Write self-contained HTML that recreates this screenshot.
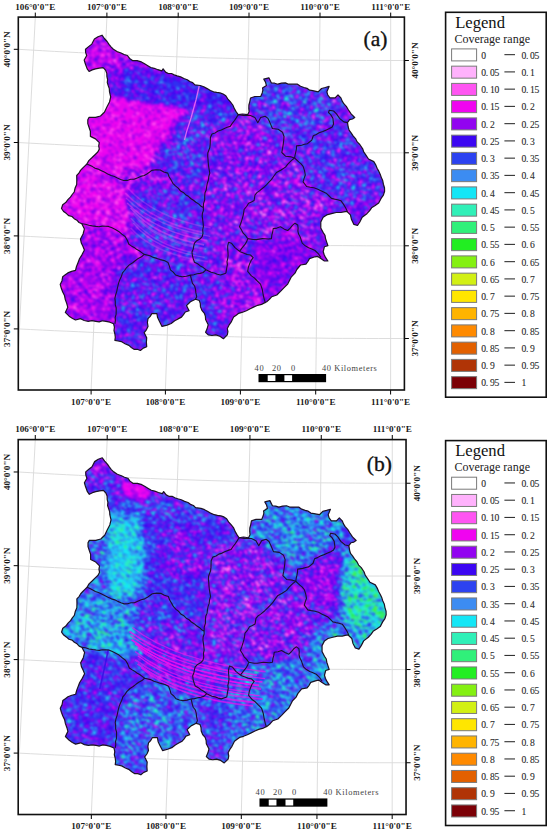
<!DOCTYPE html>
<html><head><meta charset="utf-8"><style>
html,body{margin:0;padding:0;background:#fff;width:550px;height:830px;overflow:hidden}
svg{display:block}
.lab{font-family:"Liberation Serif",serif;font-weight:bold;font-size:9.1px;fill:#1a1a1a}
.sb{font-family:"Liberation Serif",serif;font-size:8.4px;fill:#444;letter-spacing:0.6px}
.lg{font-family:"Liberation Serif",serif;font-size:16.6px;fill:#111}
.cr{font-family:"Liberation Serif",serif;font-size:12px;fill:#222}
.lt{font-family:"Liberation Serif",serif;font-size:9.6px;fill:#2a2a2a;stroke:#2a2a2a;stroke-width:0.1px;letter-spacing:-0.3px}
.pl{font-family:"Liberation Serif",serif;font-size:21.5px;fill:#111;stroke:#111;stroke-width:0.35px}
</style></head><body>
<svg width="550" height="830" viewBox="0 0 550 830">
<defs>
<clipPath id="clipOut"><path d="M102.0,35.2 L104.4,38.5 L107.1,41.5 L109.0,44.3 L111.0,46.9 L113.4,49.2 L117.0,51.6 L121.1,53.0 L124.1,54.5 L127.4,55.5 L129.6,58.4 L132.5,60.6 L137.0,60.6 L141.4,61.9 L144.6,63.8 L147.8,65.7 L150.8,67.5 L154.2,68.3 L157.9,69.7 L161.8,70.8 L163.1,68.8 L165.6,72.1 L168.3,73.5 L171.5,73.5 L174.2,74.9 L177.1,75.9 L180.6,76.9 L183.9,78.5 L187.3,79.7 L189.8,81.5 L192.7,82.6 L194.9,84.8 L200.2,85.5 L203.8,86.8 L207.1,88.6 L210.4,90.5 L213.5,91.8 L216.7,92.4 L220.0,92.9 L223.1,94.0 L225.8,95.8 L227.7,98.9 L230.2,101.6 L232.8,105.0 L234.5,108.9 L236.2,111.9 L238.2,114.7 L242.5,114.0 L247.6,114.7 L249.1,111.8 L248.8,108.4 L248.9,105.0 L249.8,101.6 L250.5,98.0 L254.9,96.5 L260.7,96.5 L262.2,92.9 L262.9,90.0 L262.5,88.0 L266.4,85.5 L265.5,82.1 L263.8,79.1 L268.9,77.8 L271.4,82.9 L274.7,83.2 L277.8,84.2 L281.5,83.2 L285.4,82.9 L288.5,84.2 L291.8,84.2 L297.5,84.2 L300.5,86.3 L304.0,87.5 L307.0,88.3 L309.6,90.2 L312.7,90.7 L318.2,91.8 L321.5,88.5 L325.3,87.5 L329.1,86.4 L326.9,91.8 L327.8,95.0 L330.0,97.9 L335.1,97.9 L338.0,95.0 L340.9,97.9 L342.1,100.9 L343.8,103.7 L346.3,106.4 L348.2,109.5 L351.1,113.9 L354.7,117.5 L352.5,119.0 L349.6,119.7 L347.5,122.6 L348.2,127.0 L349.1,130.2 L351.1,132.8 L353.1,135.8 L355.5,138.6 L357.2,141.9 L359.8,144.5 L362.7,148.8 L363.7,151.9 L365.6,154.6 L368.5,159.0 L373.8,161.6 L375.7,164.8 L377.1,168.2 L378.9,171.4 L380.4,174.7 L381.1,177.1 L382.7,180.5 L383.4,184.2 L384.5,187.7 L384.6,191.3 L383.4,195.1 L381.1,198.4 L378.7,203.1 L375.2,205.5 L371.6,207.8 L369.5,210.9 L366.9,213.7 L362.2,217.3 L359.8,222.0 L357.5,225.5 L353.9,224.4 L351.5,219.6 L350.4,214.9 L346.8,211.4 L343.8,211.8 L340.9,212.5 L336.2,212.5 L331.5,213.7 L326.7,214.9 L323.2,217.3 L320.8,222.0 L320.8,227.9 L323.2,232.6 L325.0,235.3 L325.5,238.5 L326.7,242.1 L327.9,245.6 L324.4,246.8 L323.2,251.5 L324.1,254.5 L325.5,257.4 L327.9,261.0 L324.4,261.0 L320.8,258.6 L317.3,256.3 L315.0,256.8 L309.5,258.6 L307.9,261.5 L305.9,264.1 L300.5,265.0 L296.8,269.5 L295.0,273.2 L291.4,276.8 L289.5,280.5 L287.7,284.1 L284.1,287.7 L280.5,291.4 L276.8,295.0 L271.8,296.7 L269.4,299.4 L266.7,301.8 L261.6,304.4 L257.7,305.3 L254.0,306.9 L250.2,308.8 L246.4,310.7 L242.6,312.2 L238.7,313.3 L236.2,315.2 L233.6,317.1 L231.1,322.2 L229.0,325.2 L227.3,328.5 L227.9,331.7 L227.3,334.9 L223.4,338.7 L219.9,336.2 L215.8,334.9 L212.0,335.5 L208.2,334.9 L205.6,332.3 L207.2,328.6 L208.2,324.7 L205.6,319.6 L205.4,316.4 L204.4,313.3 L201.9,310.4 L200.5,306.9 L200.3,303.6 L199.3,300.5 L195.5,299.3 L190.4,301.8 L186.5,305.6 L189.1,310.7 L185.3,312.0 L183.5,314.7 L181.5,317.1 L178.1,318.9 L174.7,320.8 L171.2,323.5 L167.1,325.1 L162.0,326.4 L159.4,321.3 L157.6,317.6 L156.9,313.6 L151.8,313.6 L150.2,316.4 L148.0,318.7 L147.4,322.5 L148.0,326.4 L146.4,329.8 L144.2,332.7 L146.7,337.8 L146.4,342.2 L146.7,346.7 L143.3,348.1 L140.4,350.5 L137.3,349.3 L134.0,349.3 L131.3,347.5 L128.9,345.4 L125.0,343.7 L121.3,341.6 L118.1,341.0 L114.9,340.4 L115.3,337.2 L114.9,334.0 L114.0,330.7 L114.4,327.2 L113.6,323.8 L109.9,322.2 L106.0,321.3 L102.6,320.8 L99.2,321.9 L95.8,321.3 L92.0,320.7 L88.2,321.3 L84.2,320.5 L80.5,318.7 L75.5,320.0 L72.2,318.3 L69.1,316.2 L65.3,312.4 L67.8,307.3 L66.7,303.4 L65.3,299.6 L64.5,295.6 L62.7,292.0 L61.3,288.3 L60.2,284.4 L62.0,280.7 L62.7,276.7 L65.3,274.8 L67.8,272.9 L71.6,271.4 L75.5,270.4 L76.5,266.5 L78.0,262.7 L79.5,258.7 L81.8,255.1 L84.4,250.0 L83.1,246.7 L81.3,243.1 L80.5,239.1 L83.1,234.0 L84.4,228.9 L81.8,223.8 L79.0,222.5 L76.9,220.2 L74.2,218.7 L72.0,216.5 L68.8,215.7 L66.5,213.6 L63.6,211.5 L61.5,208.5 L62.7,204.7 L65.7,202.6 L67.9,199.7 L70.4,197.1 L72.2,194.5 L74.2,192.0 L75.1,188.1 L76.7,184.4 L76.8,179.9 L76.7,175.5 L78.9,173.2 L80.5,170.4 L82.6,168.2 L84.7,166.1 L86.9,164.0 L88.8,160.6 L91.6,158.0 L95.5,154.2 L97.8,152.0 L99.3,149.1 L98.7,145.9 L99.3,142.7 L95.5,138.9 L90.4,136.4 L90.4,131.3 L89.1,127.5 L87.8,123.6 L87.8,119.8 L89.1,117.3 L92.3,117.3 L95.5,117.3 L100.5,116.0 L104.4,112.2 L106.9,107.1 L109.5,102.0 L110.7,96.9 L109.5,91.8 L109.3,88.6 L108.2,85.5 L107.3,82.6 L107.6,79.5 L106.9,76.5 L106.8,73.2 L105.6,70.2 L103.1,67.6 L99.3,68.1 L95.5,68.9 L92.2,69.9 L89.1,71.5 L87.2,68.9 L85.3,63.8 L84.2,60.0 L86.7,55.5 L85.6,52.4 L85.5,49.2 L88.6,46.6 L91.8,44.1 L94.4,39.0 L98.0,36.7 Z"/></clipPath>
<filter id="bl0" x="-10%" y="-10%" width="120%" height="120%"><feGaussianBlur stdDeviation="0.4"/></filter>
<filter id="bl1" x="-10%" y="-10%" width="120%" height="120%"><feGaussianBlur stdDeviation="1"/></filter>
<filter id="bl2" x="-10%" y="-10%" width="120%" height="120%"><feGaussianBlur stdDeviation="2"/></filter>
<filter id="bl3" x="-10%" y="-10%" width="120%" height="120%"><feGaussianBlur stdDeviation="3"/></filter>
<filter id="bl4" x="-10%" y="-10%" width="120%" height="120%"><feGaussianBlur stdDeviation="4"/></filter>
<filter id="bl5" x="-10%" y="-10%" width="120%" height="120%"><feGaussianBlur stdDeviation="5"/></filter>
<filter id="nzA" x="0" y="0" width="100%" height="100%" color-interpolation-filters="sRGB">
 <feTurbulence type="fractalNoise" baseFrequency="0.22 0.45" numOctaves="2" seed="3" result="n"/>
 <feColorMatrix in="n" type="matrix" values="1 0 0 0 0  1 0 0 0 0  1 0 0 0 0  0 0 0 0 1" result="ng"/>
 <feTurbulence type="fractalNoise" baseFrequency="0.08 0.12" numOctaves="3" seed="9" result="n2"/>
 <feColorMatrix in="n2" type="matrix" values="1 0 0 0 0  1 0 0 0 0  1 0 0 0 0  0 0 0 0 1" result="ng2"/>
 <feComposite in="ng" in2="ng2" operator="arithmetic" k1="0" k2="0.6" k3="0.18" k4="0.10999999999999999" result="nsum"/>
 <feColorMatrix in="SourceGraphic" type="matrix" values="0 1 0 0 0  0 1 0 0 0  0 1 0 0 0  0 0 0 0 1" result="A"/>
 <feComposite in="A" in2="nsum" operator="arithmetic" k1="1" k2="-0.5" k3="0" k4="0.5" result="m"/>
 <feComposite in="SourceGraphic" in2="m" operator="arithmetic" k1="0" k2="1" k3="1" k4="-0.5" result="v0"/>
 <feColorMatrix in="v0" type="matrix" values="1 0 0 0 0  1 0 0 0 0  1 0 0 0 0  0 0 0 0 1" result="v"/>
 <feComponentTransfer in="v" result="c">
  <feFuncR type="discrete" tableValues="1.000 1.000 1.000 0.941 0.573 0.235 0.173 0.235 0.078 0.188 0.188 0.133 0.518 0.824 1.000 1.000 1.000 0.886 0.690 0.486"/>
  <feFuncG type="discrete" tableValues="1.000 0.698 0.333 0.016 0.016 0.024 0.259 0.549 0.902 0.941 0.941 0.933 0.941 0.941 0.902 0.706 0.541 0.376 0.204 0.000"/>
  <feFuncB type="discrete" tableValues="1.000 0.988 0.949 0.941 0.941 0.949 0.941 0.949 0.965 0.722 0.478 0.133 0.071 0.078 0.000 0.000 0.000 0.000 0.024 0.024"/>
  <feFuncA type="identity"/>
 </feComponentTransfer>
 <feGaussianBlur in="c" stdDeviation="0.95"/>
</filter>
<filter id="nzB" x="0" y="0" width="100%" height="100%" color-interpolation-filters="sRGB">
 <feTurbulence type="fractalNoise" baseFrequency="0.22 0.45" numOctaves="2" seed="7" result="n"/>
 <feColorMatrix in="n" type="matrix" values="1 0 0 0 0  1 0 0 0 0  1 0 0 0 0  0 0 0 0 1" result="ng"/>
 <feTurbulence type="fractalNoise" baseFrequency="0.08 0.12" numOctaves="3" seed="13" result="n2"/>
 <feColorMatrix in="n2" type="matrix" values="1 0 0 0 0  1 0 0 0 0  1 0 0 0 0  0 0 0 0 1" result="ng2"/>
 <feComposite in="ng" in2="ng2" operator="arithmetic" k1="0" k2="0.6" k3="0.18" k4="0.10999999999999999" result="nsum"/>
 <feColorMatrix in="SourceGraphic" type="matrix" values="0 1 0 0 0  0 1 0 0 0  0 1 0 0 0  0 0 0 0 1" result="A"/>
 <feComposite in="A" in2="nsum" operator="arithmetic" k1="1" k2="-0.5" k3="0" k4="0.5" result="m"/>
 <feComposite in="SourceGraphic" in2="m" operator="arithmetic" k1="0" k2="1" k3="1" k4="-0.5" result="v0"/>
 <feColorMatrix in="v0" type="matrix" values="1 0 0 0 0  1 0 0 0 0  1 0 0 0 0  0 0 0 0 1" result="v"/>
 <feComponentTransfer in="v" result="c">
  <feFuncR type="discrete" tableValues="1.000 1.000 1.000 0.941 0.573 0.235 0.173 0.235 0.078 0.188 0.188 0.133 0.518 0.824 1.000 1.000 1.000 0.886 0.690 0.486"/>
  <feFuncG type="discrete" tableValues="1.000 0.698 0.333 0.016 0.016 0.024 0.259 0.549 0.902 0.941 0.941 0.933 0.941 0.941 0.902 0.706 0.541 0.376 0.204 0.000"/>
  <feFuncB type="discrete" tableValues="1.000 0.988 0.949 0.941 0.941 0.949 0.941 0.949 0.965 0.722 0.478 0.133 0.071 0.078 0.000 0.000 0.000 0.000 0.024 0.024"/>
  <feFuncA type="identity"/>
 </feComponentTransfer>
 <feGaussianBlur in="c" stdDeviation="0.95"/>
</filter>
</defs>
<rect width="550" height="830" fill="#fff"/>
<g transform="translate(0,0)">
<line x1="35.3" y1="17.1" x2="18.3" y2="350.7" stroke="#d9d9d9" stroke-width="0.9"/>
<line x1="106.9" y1="17.1" x2="91.1" y2="390.0" stroke="#d9d9d9" stroke-width="0.9"/>
<line x1="178.2" y1="17.1" x2="165.4" y2="390.0" stroke="#d9d9d9" stroke-width="0.9"/>
<line x1="249.0" y1="17.1" x2="240.4" y2="390.0" stroke="#d9d9d9" stroke-width="0.9"/>
<line x1="320.0" y1="17.1" x2="315.7" y2="390.0" stroke="#d9d9d9" stroke-width="0.9"/>
<line x1="390.7" y1="17.1" x2="390.6" y2="390.0" stroke="#d9d9d9" stroke-width="0.9"/>
<polyline points="18.3,49.3 30.3,50.0 42.3,50.7 54.3,51.4 66.3,52.0 78.3,52.6 90.3,53.2 102.3,53.8 114.3,54.3 126.3,54.9 138.3,55.4 150.3,55.8 162.3,56.3 174.3,56.7 186.3,57.1 198.3,57.5 210.3,57.9 222.3,58.2 234.3,58.5 246.3,58.8 258.3,59.1 270.3,59.3 282.3,59.6 294.3,59.8 306.3,59.9 318.3,60.1 330.3,60.2 342.3,60.3 354.3,60.4 366.3,60.5 378.3,60.5 390.3,60.5 402.3,60.5 404.4,60.5" fill="none" stroke="#d9d9d9" stroke-width="0.9"/>
<polyline points="18.3,142.5 30.3,143.2 42.3,143.8 54.3,144.4 66.3,145.0 78.3,145.6 90.3,146.1 102.3,146.6 114.3,147.1 126.3,147.6 138.3,148.1 150.3,148.5 162.3,148.9 174.3,149.3 186.3,149.7 198.3,150.1 210.3,150.4 222.3,150.7 234.3,151.0 246.3,151.3 258.3,151.5 270.3,151.7 282.3,151.9 294.3,152.1 306.3,152.3 318.3,152.4 330.3,152.5 342.3,152.6 354.3,152.7 366.3,152.8 378.3,152.8 390.3,152.8 402.3,152.8 404.4,152.8" fill="none" stroke="#d9d9d9" stroke-width="0.9"/>
<polyline points="18.3,235.9 30.3,236.5 42.3,237.1 54.3,237.7 66.3,238.3 78.3,238.8 90.3,239.4 102.3,239.9 114.3,240.4 126.3,240.8 138.3,241.3 150.3,241.7 162.3,242.1 174.3,242.5 186.3,242.8 198.3,243.2 210.3,243.5 222.3,243.8 234.3,244.1 246.3,244.3 258.3,244.6 270.3,244.8 282.3,245.0 294.3,245.1 306.3,245.3 318.3,245.4 330.3,245.6 342.3,245.6 354.3,245.7 366.3,245.8 378.3,245.8 390.3,245.8 402.3,245.8 404.4,245.8" fill="none" stroke="#d9d9d9" stroke-width="0.9"/>
<polyline points="18.3,328.9 30.3,329.5 42.3,330.1 54.3,330.7 66.3,331.2 78.3,331.7 90.3,332.3 102.3,332.7 114.3,333.2 126.3,333.7 138.3,334.1 150.3,334.5 162.3,334.9 174.3,335.3 186.3,335.6 198.3,335.9 210.3,336.3 222.3,336.5 234.3,336.8 246.3,337.1 258.3,337.3 270.3,337.5 282.3,337.7 294.3,337.9 306.3,338.0 318.3,338.1 330.3,338.3 342.3,338.4 354.3,338.4 366.3,338.5 378.3,338.5 390.3,338.5 402.3,338.5 404.4,338.5" fill="none" stroke="#d9d9d9" stroke-width="0.9"/>
<line x1="35.3" y1="17.1" x2="35.3" y2="12.6" stroke="#000" stroke-width="1"/>
<text x="35.3" y="10" class="lab" text-anchor="middle">106&#176;0&#39;0&quot;E</text>
<line x1="106.9" y1="17.1" x2="106.9" y2="12.6" stroke="#000" stroke-width="1"/>
<text x="106.9" y="10" class="lab" text-anchor="middle">107&#176;0&#39;0&quot;E</text>
<line x1="91.1" y1="390.0" x2="91.1" y2="394.5" stroke="#000" stroke-width="1"/>
<text x="91.1" y="404.5" class="lab" text-anchor="middle">107&#176;0&#39;0&quot;E</text>
<line x1="178.2" y1="17.1" x2="178.2" y2="12.6" stroke="#000" stroke-width="1"/>
<text x="178.2" y="10" class="lab" text-anchor="middle">108&#176;0&#39;0&quot;E</text>
<line x1="165.4" y1="390.0" x2="165.4" y2="394.5" stroke="#000" stroke-width="1"/>
<text x="165.4" y="404.5" class="lab" text-anchor="middle">108&#176;0&#39;0&quot;E</text>
<line x1="249.0" y1="17.1" x2="249.0" y2="12.6" stroke="#000" stroke-width="1"/>
<text x="249.0" y="10" class="lab" text-anchor="middle">109&#176;0&#39;0&quot;E</text>
<line x1="240.4" y1="390.0" x2="240.4" y2="394.5" stroke="#000" stroke-width="1"/>
<text x="240.4" y="404.5" class="lab" text-anchor="middle">109&#176;0&#39;0&quot;E</text>
<line x1="320.0" y1="17.1" x2="320.0" y2="12.6" stroke="#000" stroke-width="1"/>
<text x="320.0" y="10" class="lab" text-anchor="middle">110&#176;0&#39;0&quot;E</text>
<line x1="315.7" y1="390.0" x2="315.7" y2="394.5" stroke="#000" stroke-width="1"/>
<text x="315.7" y="404.5" class="lab" text-anchor="middle">110&#176;0&#39;0&quot;E</text>
<line x1="390.7" y1="17.1" x2="390.7" y2="12.6" stroke="#000" stroke-width="1"/>
<text x="390.7" y="10" class="lab" text-anchor="middle">111&#176;0&#39;0&quot;E</text>
<line x1="390.6" y1="390.0" x2="390.6" y2="394.5" stroke="#000" stroke-width="1"/>
<text x="390.6" y="404.5" class="lab" text-anchor="middle">111&#176;0&#39;0&quot;E</text>
<line x1="18.3" y1="49.3" x2="13.8" y2="49.3" stroke="#000" stroke-width="1"/>
<line x1="404.4" y1="60.5" x2="408.9" y2="60.5" stroke="#000" stroke-width="1"/>
<text class="lab" text-anchor="middle" transform="translate(10.3,49.3) rotate(-90)">40&#176;0&#39;0&quot;N</text>
<text class="lab" text-anchor="middle" transform="translate(418,60.5) rotate(-90)">40&#176;0&#39;0&quot;N</text>
<line x1="18.3" y1="142.5" x2="13.8" y2="142.5" stroke="#000" stroke-width="1"/>
<line x1="404.4" y1="152.8" x2="408.9" y2="152.8" stroke="#000" stroke-width="1"/>
<text class="lab" text-anchor="middle" transform="translate(10.3,142.5) rotate(-90)">39&#176;0&#39;0&quot;N</text>
<text class="lab" text-anchor="middle" transform="translate(418,152.8) rotate(-90)">39&#176;0&#39;0&quot;N</text>
<line x1="18.3" y1="235.9" x2="13.8" y2="235.9" stroke="#000" stroke-width="1"/>
<line x1="404.4" y1="245.8" x2="408.9" y2="245.8" stroke="#000" stroke-width="1"/>
<text class="lab" text-anchor="middle" transform="translate(10.3,235.9) rotate(-90)">38&#176;0&#39;0&quot;N</text>
<text class="lab" text-anchor="middle" transform="translate(418,245.8) rotate(-90)">38&#176;0&#39;0&quot;N</text>
<line x1="18.3" y1="328.9" x2="13.8" y2="328.9" stroke="#000" stroke-width="1"/>
<line x1="404.4" y1="338.5" x2="408.9" y2="338.5" stroke="#000" stroke-width="1"/>
<text class="lab" text-anchor="middle" transform="translate(10.3,328.9) rotate(-90)">37&#176;0&#39;0&quot;N</text>
<text class="lab" text-anchor="middle" transform="translate(418,338.5) rotate(-90)">37&#176;0&#39;0&quot;N</text>
<rect x="18.3" y="17.1" width="386.1" height="372.9" fill="none" stroke="#111" stroke-width="1.6"/>
<g clip-path="url(#clipOut)"><g transform="rotate(22 220 190)" filter="url(#nzA)"><g transform="rotate(-22 220 190)">
<rect x="0" y="-40" width="440" height="460" fill="#40cc00"/>
<polygon points="78.0,28.0 125.0,45.0 150.0,62.0 125.0,68.0 110.0,76.0 80.0,76.0" fill="#337300" filter="url(#bl3)"/>
<polygon points="125.0,50.0 215.0,66.0 250.0,100.0 205.0,86.0 160.0,76.0 116.0,66.0" fill="#399900" filter="url(#bl3)"/>
<polygon points="104.0,66.0 125.0,68.0 128.0,99.0 104.0,99.0" fill="#3d9900" filter="url(#bl3)"/>
<polygon points="122.0,68.0 160.0,72.0 205.0,84.0 240.0,98.0 236.0,118.0 200.0,112.0 178.0,107.0 124.0,99.0" fill="#4a9900" filter="url(#bl2)"/>
<polygon points="80.0,97.0 111.0,98.0 178.0,107.0 190.0,110.0 176.0,128.0 160.0,146.0 150.0,166.0 130.0,178.0 80.0,172.0" fill="#2d4c00" filter="url(#bl1)"/>
<polygon points="190.0,110.0 236.0,118.0 232.0,124.0 212.0,134.0 206.0,160.0 196.0,190.0 178.0,185.0 160.0,168.0 176.0,130.0" fill="#4ae600" filter="url(#bl4)"/>
<polygon points="55.0,165.0 100.0,172.0 126.0,182.0 130.0,215.0 128.0,238.0 80.0,236.0 55.0,230.0" fill="#2e5900" filter="url(#bl3)"/>
<polygon points="110.0,172.0 150.0,170.0 170.0,175.0 190.0,198.0 160.0,190.0 130.0,188.0" fill="#36b200" filter="url(#bl3)"/>
<polygon points="134.0,190.0 170.0,186.0 205.0,202.0 204.0,262.0 175.0,262.0 140.0,248.0 132.0,215.0" fill="#46e600" filter="url(#bl4)"/>
<polygon points="55.0,222.0 110.0,228.0 128.0,240.0 142.0,256.0 118.0,290.0 115.0,330.0 55.0,330.0" fill="#347300" filter="url(#bl4)"/>
<polygon points="118.0,262.0 150.0,256.0 205.0,268.0 230.0,340.0 115.0,345.0" fill="#45cc00" filter="url(#bl3)"/>
<polygon points="210.0,125.0 240.0,118.0 285.0,135.0 285.0,160.0 245.0,210.0 240.0,240.0 205.0,262.0" fill="#3ed900" filter="url(#bl4)"/>
<polygon points="240.0,70.0 350.0,88.0 336.0,122.0 296.0,150.0 283.0,135.0 250.0,112.0" fill="#4cff00" filter="url(#bl4)"/>
<polygon points="330.0,105.0 390.0,170.0 385.0,205.0 348.0,212.0 306.0,185.0 296.0,156.0 320.0,130.0" fill="#47e600" filter="url(#bl4)"/>
<polygon points="294.0,160.0 306.0,184.0 346.0,212.0 322.0,222.0 320.0,256.0 300.0,240.0 247.0,238.0 242.0,218.0 256.0,195.0" fill="#3be600" filter="url(#bl4)"/>
<polygon points="250.0,242.0 300.0,238.0 322.0,258.0 270.0,305.0 250.0,300.0 252.0,262.0" fill="#3a7300" filter="url(#bl4)"/>
<polygon points="226.0,245.0 250.0,255.0 265.0,305.0 230.0,340.0 224.0,270.0" fill="#39bf00" filter="url(#bl4)"/>
<polygon points="320.0,212.0 390.0,195.0 360.0,232.0 330.0,262.0 318.0,250.0" fill="#3db200" filter="url(#bl4)"/>
</g></g><path d="M199.2,86 L196,100 L191,118 L186.5,132 L184.5,140" stroke="#f070f4" stroke-width="1.3" fill="none" opacity="0.85"/><g fill="none" stroke="#f450f0" opacity="0.45" filter="url(#bl0)"><path d="M127.9,188.0 Q154.8,218.0 210.6,228.0" stroke-width="1.52" opacity="0.66"/><path d="M125.1,193.0 Q154.8,222.6 201.9,232.2" stroke-width="1.74" opacity="0.75"/><path d="M126.0,198.0 Q154.8,227.2 210.2,236.4" stroke-width="1.24" opacity="0.77"/><path d="M127.1,203.0 Q154.8,231.8 207.5,240.6" stroke-width="1.62" opacity="0.93"/><path d="M130.7,208.0 Q154.8,236.4 204.1,244.8" stroke-width="1.83" opacity="0.98"/><path d="M133.2,213.0 Q154.8,241.0 206.2,249.0" stroke-width="2.18" opacity="0.62"/><path d="M130.7,218.0 Q154.8,245.6 195.7,253.2" stroke-width="1.34" opacity="0.65"/><path d="M133.4,223.0 Q154.8,250.2 204.6,257.4" stroke-width="1.38" opacity="0.83"/><path d="M130.8,228.0 Q154.8,254.8 207.9,261.6" stroke-width="1.75" opacity="0.63"/></g></g>
<polyline points="86.9,164.0 89.7,165.2 92.5,166.6 95.1,168.2 98.1,169.1 100.9,170.4 104.3,172.1 107.7,173.9 111.1,175.5 114.4,176.5 117.4,178.0 120.6,179.4 123.8,180.5 127.2,180.4 130.6,179.3 134.0,179.3 137.3,177.9 140.7,176.4 144.2,175.5 146.9,174.0 149.4,172.2 151.8,170.4 156.0,169.8 160.2,170.0 163.8,172.0 167.8,173.1 169.1,176.7 171.1,180.0 172.9,183.3 175.4,185.9 178.2,188.1 180.5,190.9 183.3,192.4 185.6,194.7 188.4,196.3 190.7,198.5 193.4,200.2 195.9,202.2 198.6,203.9 200.9,206.2 203.4,207.4" fill="none" stroke="#1c1030" stroke-width="1.1" stroke-linejoin="round"/>
<polyline points="238.2,114.7 236.4,117.6 234.5,120.5 232.2,123.4 230.2,126.4 227.2,127.3 224.4,128.5 221.3,130.0 218.0,131.0 215.2,132.9 212.0,134.0 210.4,137.5 210.3,140.9 210.2,144.2 209.8,147.6 207.8,153.0 207.7,156.1 208.0,159.3 208.2,162.4 208.5,165.5 209.1,169.3 209.8,173.1 208.8,176.5 208.4,180.0 207.3,183.3 206.7,186.5 206.3,189.7 205.0,192.8 204.7,196.0 204.7,199.8 203.5,203.6 203.4,207.4 203.4,210.5 202.4,213.4 202.2,216.4 202.7,219.7 203.1,223.1 203.4,226.5 202.7,229.9 203.0,233.4 202.2,236.7 199.9,239.1 196.8,240.7 194.5,243.1 193.7,246.1 193.2,249.1 192.0,252.0 192.4,255.5 193.3,258.9 194.5,262.2 197.6,263.8 200.3,265.9 203.3,267.6 206.0,269.8 211.1,272.3 214.3,273.0 217.3,274.2 220.5,275.0 225.9,273.2" fill="none" stroke="#1c1030" stroke-width="1.1" stroke-linejoin="round"/>
<polyline points="81.8,223.8 85.3,224.2 88.8,225.3 92.3,225.9 95.8,226.4 99.0,226.7 102.2,226.1 105.3,226.2 108.5,226.4 112.0,227.8 115.4,229.5 118.7,231.4 121.8,234.1 125.1,236.5 127.3,240.2 128.9,244.2 131.4,245.9 134.1,247.4 136.5,249.3 139.2,250.8 141.7,252.6 144.2,254.4 150.0,255.8 153.3,257.4 156.8,258.4 160.2,259.6 164.3,260.6 168.0,262.5 169.4,266.1 170.4,269.8 173.2,272.1 175.5,274.9 178.8,276.1 182.3,276.7 186.4,276.2 190.4,275.1 193.8,274.7 197.0,273.8 200.1,273.4 203.1,272.5 206.0,269.8" fill="none" stroke="#1c1030" stroke-width="1.1" stroke-linejoin="round"/>
<polyline points="144.2,254.4 141.5,256.8 138.3,258.4 135.5,260.5 132.7,262.7 129.3,264.9 126.4,267.8 124.6,270.5 122.5,272.9 121.5,276.2 120.0,279.3 118.9,282.2 118.1,285.2 117.4,288.2 116.7,291.6 115.6,295.0 114.9,298.4 115.3,301.6 115.3,304.8 116.2,307.9 116.2,311.1 116.1,314.3 115.2,317.4 115.4,320.6 114.9,323.8" fill="none" stroke="#1c1030" stroke-width="1.1" stroke-linejoin="round"/>
<polyline points="190.4,275.1 191.6,280.2 192.5,283.3 194.6,286.0 195.5,289.1 195.9,292.9 196.7,296.7 195.5,299.3" fill="none" stroke="#1c1030" stroke-width="1.1" stroke-linejoin="round"/>
<polyline points="238.2,114.7 243.3,115.5 246.9,115.4 250.5,115.5 254.9,117.6 257.8,122.7 260.7,117.6 265.1,116.2 268.0,118.4 269.5,121.6 270.9,124.9 272.4,128.5 278.2,129.3 282.5,132.2 284.0,136.5 283.7,140.2 283.3,143.8 282.6,148.2 281.8,152.5 285.5,156.2 291.3,156.9 294.6,158.0" fill="none" stroke="#1c1030" stroke-width="1.1" stroke-linejoin="round"/>
<polyline points="294.6,158.0 295.1,155.0 295.8,152.0 296.4,149.0 296.5,145.9 301.6,145.2 304.5,144.3 307.5,143.7 311.8,140.1 313.3,135.7 316.3,134.5 319.1,132.8 322.8,131.5 326.4,129.9 329.4,128.6 332.2,127.0 333.6,124.1 332.9,118.3 330.7,114.6 328.5,112.5 329.3,110.3 333.6,111.0 336.5,113.9 339.5,118.3 343.8,121.9 347.5,122.6" fill="none" stroke="#1c1030" stroke-width="1.1" stroke-linejoin="round"/>
<polyline points="294.6,158.0 298.7,161.9 301.1,163.9 303.1,166.3 304.5,170.6 305.3,175.0 304.1,178.4 303.1,181.8 306.6,186.5 310.2,187.2 313.8,187.8 317.3,188.9 320.4,190.5 323.6,192.0 326.7,193.6 329.1,196.0 331.5,198.4 334.6,199.1 337.8,199.7 340.9,200.7 343.4,204.1 345.6,207.8 347.5,211.8" fill="none" stroke="#1c1030" stroke-width="1.1" stroke-linejoin="round"/>
<polyline points="294.6,158.0 292.2,159.8 290.0,161.9 287.6,164.3 285.5,167.1 281.1,170.0 276.5,172.5 273.9,176.0 271.4,179.6 268.9,182.2 266.4,184.8 263.8,187.3 259.4,190.9 256.9,192.6 255.0,195.0 254.1,200.5 251.4,202.0 248.6,203.2 246.6,206.5 244.1,209.5 243.7,212.6 243.1,215.6 242.3,218.6 241.0,222.8 239.5,226.8 241.5,229.9 243.2,233.2 245.7,235.7 247.7,238.6" fill="none" stroke="#1c1030" stroke-width="1.1" stroke-linejoin="round"/>
<polyline points="247.7,238.6 253.2,239.5 256.3,239.6 259.3,239.1 262.3,238.6 265.3,238.8 268.4,239.0 271.4,238.6 271.8,235.2 272.7,232.0 273.2,228.6 276.9,228.1 280.5,226.8 283.9,228.9 287.7,230.5 290.2,228.1 292.4,225.4 295.0,223.2 297.7,225.0 298.1,228.0 297.9,231.1 298.6,234.1 300.2,237.0 301.2,240.1 302.3,243.2 305.2,245.8 308.6,247.7 311.8,249.1 315.0,250.5 318.5,253.9 320.8,257.4" fill="none" stroke="#1c1030" stroke-width="1.1" stroke-linejoin="round"/>
<polyline points="247.7,238.6 246.8,241.4 244.8,244.7 242.3,247.7 239.5,251.4" fill="none" stroke="#1c1030" stroke-width="1.1" stroke-linejoin="round"/>
<polyline points="239.5,251.4 235.0,247.7 231.4,243.2 228.6,242.3 227.7,245.8 227.7,249.5 228.0,252.5 228.1,255.6 227.7,258.6 227.0,261.6 227.4,264.7 226.8,267.7 225.9,273.2" fill="none" stroke="#1c1030" stroke-width="1.1" stroke-linejoin="round"/>
<polyline points="239.5,251.4 244.1,253.2 247.2,254.5 250.5,255.0 253.2,257.7 251.0,260.7 249.5,264.1 248.3,267.7 247.7,271.4 251.4,275.9 254.3,277.9 256.8,280.5 260.5,284.1 262.3,289.5 263.2,295.0 264.2,299.1 265.4,303.1" fill="none" stroke="#1c1030" stroke-width="1.1" stroke-linejoin="round"/>
<path d="M102.0,35.2 L104.4,38.5 L107.1,41.5 L109.0,44.3 L111.0,46.9 L113.4,49.2 L117.0,51.6 L121.1,53.0 L124.1,54.5 L127.4,55.5 L129.6,58.4 L132.5,60.6 L137.0,60.6 L141.4,61.9 L144.6,63.8 L147.8,65.7 L150.8,67.5 L154.2,68.3 L157.9,69.7 L161.8,70.8 L163.1,68.8 L165.6,72.1 L168.3,73.5 L171.5,73.5 L174.2,74.9 L177.1,75.9 L180.6,76.9 L183.9,78.5 L187.3,79.7 L189.8,81.5 L192.7,82.6 L194.9,84.8 L200.2,85.5 L203.8,86.8 L207.1,88.6 L210.4,90.5 L213.5,91.8 L216.7,92.4 L220.0,92.9 L223.1,94.0 L225.8,95.8 L227.7,98.9 L230.2,101.6 L232.8,105.0 L234.5,108.9 L236.2,111.9 L238.2,114.7 L242.5,114.0 L247.6,114.7 L249.1,111.8 L248.8,108.4 L248.9,105.0 L249.8,101.6 L250.5,98.0 L254.9,96.5 L260.7,96.5 L262.2,92.9 L262.9,90.0 L262.5,88.0 L266.4,85.5 L265.5,82.1 L263.8,79.1 L268.9,77.8 L271.4,82.9 L274.7,83.2 L277.8,84.2 L281.5,83.2 L285.4,82.9 L288.5,84.2 L291.8,84.2 L297.5,84.2 L300.5,86.3 L304.0,87.5 L307.0,88.3 L309.6,90.2 L312.7,90.7 L318.2,91.8 L321.5,88.5 L325.3,87.5 L329.1,86.4 L326.9,91.8 L327.8,95.0 L330.0,97.9 L335.1,97.9 L338.0,95.0 L340.9,97.9 L342.1,100.9 L343.8,103.7 L346.3,106.4 L348.2,109.5 L351.1,113.9 L354.7,117.5 L352.5,119.0 L349.6,119.7 L347.5,122.6 L348.2,127.0 L349.1,130.2 L351.1,132.8 L353.1,135.8 L355.5,138.6 L357.2,141.9 L359.8,144.5 L362.7,148.8 L363.7,151.9 L365.6,154.6 L368.5,159.0 L373.8,161.6 L375.7,164.8 L377.1,168.2 L378.9,171.4 L380.4,174.7 L381.1,177.1 L382.7,180.5 L383.4,184.2 L384.5,187.7 L384.6,191.3 L383.4,195.1 L381.1,198.4 L378.7,203.1 L375.2,205.5 L371.6,207.8 L369.5,210.9 L366.9,213.7 L362.2,217.3 L359.8,222.0 L357.5,225.5 L353.9,224.4 L351.5,219.6 L350.4,214.9 L346.8,211.4 L343.8,211.8 L340.9,212.5 L336.2,212.5 L331.5,213.7 L326.7,214.9 L323.2,217.3 L320.8,222.0 L320.8,227.9 L323.2,232.6 L325.0,235.3 L325.5,238.5 L326.7,242.1 L327.9,245.6 L324.4,246.8 L323.2,251.5 L324.1,254.5 L325.5,257.4 L327.9,261.0 L324.4,261.0 L320.8,258.6 L317.3,256.3 L315.0,256.8 L309.5,258.6 L307.9,261.5 L305.9,264.1 L300.5,265.0 L296.8,269.5 L295.0,273.2 L291.4,276.8 L289.5,280.5 L287.7,284.1 L284.1,287.7 L280.5,291.4 L276.8,295.0 L271.8,296.7 L269.4,299.4 L266.7,301.8 L261.6,304.4 L257.7,305.3 L254.0,306.9 L250.2,308.8 L246.4,310.7 L242.6,312.2 L238.7,313.3 L236.2,315.2 L233.6,317.1 L231.1,322.2 L229.0,325.2 L227.3,328.5 L227.9,331.7 L227.3,334.9 L223.4,338.7 L219.9,336.2 L215.8,334.9 L212.0,335.5 L208.2,334.9 L205.6,332.3 L207.2,328.6 L208.2,324.7 L205.6,319.6 L205.4,316.4 L204.4,313.3 L201.9,310.4 L200.5,306.9 L200.3,303.6 L199.3,300.5 L195.5,299.3 L190.4,301.8 L186.5,305.6 L189.1,310.7 L185.3,312.0 L183.5,314.7 L181.5,317.1 L178.1,318.9 L174.7,320.8 L171.2,323.5 L167.1,325.1 L162.0,326.4 L159.4,321.3 L157.6,317.6 L156.9,313.6 L151.8,313.6 L150.2,316.4 L148.0,318.7 L147.4,322.5 L148.0,326.4 L146.4,329.8 L144.2,332.7 L146.7,337.8 L146.4,342.2 L146.7,346.7 L143.3,348.1 L140.4,350.5 L137.3,349.3 L134.0,349.3 L131.3,347.5 L128.9,345.4 L125.0,343.7 L121.3,341.6 L118.1,341.0 L114.9,340.4 L115.3,337.2 L114.9,334.0 L114.0,330.7 L114.4,327.2 L113.6,323.8 L109.9,322.2 L106.0,321.3 L102.6,320.8 L99.2,321.9 L95.8,321.3 L92.0,320.7 L88.2,321.3 L84.2,320.5 L80.5,318.7 L75.5,320.0 L72.2,318.3 L69.1,316.2 L65.3,312.4 L67.8,307.3 L66.7,303.4 L65.3,299.6 L64.5,295.6 L62.7,292.0 L61.3,288.3 L60.2,284.4 L62.0,280.7 L62.7,276.7 L65.3,274.8 L67.8,272.9 L71.6,271.4 L75.5,270.4 L76.5,266.5 L78.0,262.7 L79.5,258.7 L81.8,255.1 L84.4,250.0 L83.1,246.7 L81.3,243.1 L80.5,239.1 L83.1,234.0 L84.4,228.9 L81.8,223.8 L79.0,222.5 L76.9,220.2 L74.2,218.7 L72.0,216.5 L68.8,215.7 L66.5,213.6 L63.6,211.5 L61.5,208.5 L62.7,204.7 L65.7,202.6 L67.9,199.7 L70.4,197.1 L72.2,194.5 L74.2,192.0 L75.1,188.1 L76.7,184.4 L76.8,179.9 L76.7,175.5 L78.9,173.2 L80.5,170.4 L82.6,168.2 L84.7,166.1 L86.9,164.0 L88.8,160.6 L91.6,158.0 L95.5,154.2 L97.8,152.0 L99.3,149.1 L98.7,145.9 L99.3,142.7 L95.5,138.9 L90.4,136.4 L90.4,131.3 L89.1,127.5 L87.8,123.6 L87.8,119.8 L89.1,117.3 L92.3,117.3 L95.5,117.3 L100.5,116.0 L104.4,112.2 L106.9,107.1 L109.5,102.0 L110.7,96.9 L109.5,91.8 L109.3,88.6 L108.2,85.5 L107.3,82.6 L107.6,79.5 L106.9,76.5 L106.8,73.2 L105.6,70.2 L103.1,67.6 L99.3,68.1 L95.5,68.9 L92.2,69.9 L89.1,71.5 L87.2,68.9 L85.3,63.8 L84.2,60.0 L86.7,55.5 L85.6,52.4 L85.5,49.2 L88.6,46.6 L91.8,44.1 L94.4,39.0 L98.0,36.7 Z" fill="none" stroke="#1c1224" stroke-width="1.2" stroke-linejoin="round"/>
<rect x="258.5" y="374" width="67.6" height="8.2" fill="#000"/>
<rect x="267.7" y="375.2" width="7.7" height="5.8" fill="#fff"/>
<rect x="284.4" y="375.2" width="7.7" height="5.8" fill="#fff"/>
<text x="254.6" y="370.8" class="sb">40</text>
<text x="272" y="370.8" class="sb">20</text>
<text x="290.9" y="370.8" class="sb">0</text>
<text x="322" y="370.8" class="sb">40 Kilometers</text>
<text x="363.6" y="45.6" class="pl">(a)</text>
</g>
<g transform="matrix(1.0045 0 0 1.0054 -0.18 422.41)">
<line x1="35.3" y1="17.1" x2="18.3" y2="350.7" stroke="#d9d9d9" stroke-width="0.9"/>
<line x1="106.9" y1="17.1" x2="91.1" y2="390.0" stroke="#d9d9d9" stroke-width="0.9"/>
<line x1="178.2" y1="17.1" x2="165.4" y2="390.0" stroke="#d9d9d9" stroke-width="0.9"/>
<line x1="249.0" y1="17.1" x2="240.4" y2="390.0" stroke="#d9d9d9" stroke-width="0.9"/>
<line x1="320.0" y1="17.1" x2="315.7" y2="390.0" stroke="#d9d9d9" stroke-width="0.9"/>
<line x1="390.7" y1="17.1" x2="390.6" y2="390.0" stroke="#d9d9d9" stroke-width="0.9"/>
<polyline points="18.3,49.3 30.3,50.0 42.3,50.7 54.3,51.4 66.3,52.0 78.3,52.6 90.3,53.2 102.3,53.8 114.3,54.3 126.3,54.9 138.3,55.4 150.3,55.8 162.3,56.3 174.3,56.7 186.3,57.1 198.3,57.5 210.3,57.9 222.3,58.2 234.3,58.5 246.3,58.8 258.3,59.1 270.3,59.3 282.3,59.6 294.3,59.8 306.3,59.9 318.3,60.1 330.3,60.2 342.3,60.3 354.3,60.4 366.3,60.5 378.3,60.5 390.3,60.5 402.3,60.5 404.4,60.5" fill="none" stroke="#d9d9d9" stroke-width="0.9"/>
<polyline points="18.3,142.5 30.3,143.2 42.3,143.8 54.3,144.4 66.3,145.0 78.3,145.6 90.3,146.1 102.3,146.6 114.3,147.1 126.3,147.6 138.3,148.1 150.3,148.5 162.3,148.9 174.3,149.3 186.3,149.7 198.3,150.1 210.3,150.4 222.3,150.7 234.3,151.0 246.3,151.3 258.3,151.5 270.3,151.7 282.3,151.9 294.3,152.1 306.3,152.3 318.3,152.4 330.3,152.5 342.3,152.6 354.3,152.7 366.3,152.8 378.3,152.8 390.3,152.8 402.3,152.8 404.4,152.8" fill="none" stroke="#d9d9d9" stroke-width="0.9"/>
<polyline points="18.3,235.9 30.3,236.5 42.3,237.1 54.3,237.7 66.3,238.3 78.3,238.8 90.3,239.4 102.3,239.9 114.3,240.4 126.3,240.8 138.3,241.3 150.3,241.7 162.3,242.1 174.3,242.5 186.3,242.8 198.3,243.2 210.3,243.5 222.3,243.8 234.3,244.1 246.3,244.3 258.3,244.6 270.3,244.8 282.3,245.0 294.3,245.1 306.3,245.3 318.3,245.4 330.3,245.6 342.3,245.6 354.3,245.7 366.3,245.8 378.3,245.8 390.3,245.8 402.3,245.8 404.4,245.8" fill="none" stroke="#d9d9d9" stroke-width="0.9"/>
<polyline points="18.3,328.9 30.3,329.5 42.3,330.1 54.3,330.7 66.3,331.2 78.3,331.7 90.3,332.3 102.3,332.7 114.3,333.2 126.3,333.7 138.3,334.1 150.3,334.5 162.3,334.9 174.3,335.3 186.3,335.6 198.3,335.9 210.3,336.3 222.3,336.5 234.3,336.8 246.3,337.1 258.3,337.3 270.3,337.5 282.3,337.7 294.3,337.9 306.3,338.0 318.3,338.1 330.3,338.3 342.3,338.4 354.3,338.4 366.3,338.5 378.3,338.5 390.3,338.5 402.3,338.5 404.4,338.5" fill="none" stroke="#d9d9d9" stroke-width="0.9"/>
<line x1="35.3" y1="17.1" x2="35.3" y2="12.6" stroke="#000" stroke-width="1"/>
<text x="35.3" y="10" class="lab" text-anchor="middle">106&#176;0&#39;0&quot;E</text>
<line x1="106.9" y1="17.1" x2="106.9" y2="12.6" stroke="#000" stroke-width="1"/>
<text x="106.9" y="10" class="lab" text-anchor="middle">107&#176;0&#39;0&quot;E</text>
<line x1="91.1" y1="390.0" x2="91.1" y2="394.5" stroke="#000" stroke-width="1"/>
<text x="91.1" y="404.5" class="lab" text-anchor="middle">107&#176;0&#39;0&quot;E</text>
<line x1="178.2" y1="17.1" x2="178.2" y2="12.6" stroke="#000" stroke-width="1"/>
<text x="178.2" y="10" class="lab" text-anchor="middle">108&#176;0&#39;0&quot;E</text>
<line x1="165.4" y1="390.0" x2="165.4" y2="394.5" stroke="#000" stroke-width="1"/>
<text x="165.4" y="404.5" class="lab" text-anchor="middle">108&#176;0&#39;0&quot;E</text>
<line x1="249.0" y1="17.1" x2="249.0" y2="12.6" stroke="#000" stroke-width="1"/>
<text x="249.0" y="10" class="lab" text-anchor="middle">109&#176;0&#39;0&quot;E</text>
<line x1="240.4" y1="390.0" x2="240.4" y2="394.5" stroke="#000" stroke-width="1"/>
<text x="240.4" y="404.5" class="lab" text-anchor="middle">109&#176;0&#39;0&quot;E</text>
<line x1="320.0" y1="17.1" x2="320.0" y2="12.6" stroke="#000" stroke-width="1"/>
<text x="320.0" y="10" class="lab" text-anchor="middle">110&#176;0&#39;0&quot;E</text>
<line x1="315.7" y1="390.0" x2="315.7" y2="394.5" stroke="#000" stroke-width="1"/>
<text x="315.7" y="404.5" class="lab" text-anchor="middle">110&#176;0&#39;0&quot;E</text>
<line x1="390.7" y1="17.1" x2="390.7" y2="12.6" stroke="#000" stroke-width="1"/>
<text x="390.7" y="10" class="lab" text-anchor="middle">111&#176;0&#39;0&quot;E</text>
<line x1="390.6" y1="390.0" x2="390.6" y2="394.5" stroke="#000" stroke-width="1"/>
<text x="390.6" y="404.5" class="lab" text-anchor="middle">111&#176;0&#39;0&quot;E</text>
<line x1="18.3" y1="49.3" x2="13.8" y2="49.3" stroke="#000" stroke-width="1"/>
<line x1="404.4" y1="60.5" x2="408.9" y2="60.5" stroke="#000" stroke-width="1"/>
<text class="lab" text-anchor="middle" transform="translate(10.3,49.3) rotate(-90)">40&#176;0&#39;0&quot;N</text>
<text class="lab" text-anchor="middle" transform="translate(418,60.5) rotate(-90)">40&#176;0&#39;0&quot;N</text>
<line x1="18.3" y1="142.5" x2="13.8" y2="142.5" stroke="#000" stroke-width="1"/>
<line x1="404.4" y1="152.8" x2="408.9" y2="152.8" stroke="#000" stroke-width="1"/>
<text class="lab" text-anchor="middle" transform="translate(10.3,142.5) rotate(-90)">39&#176;0&#39;0&quot;N</text>
<text class="lab" text-anchor="middle" transform="translate(418,152.8) rotate(-90)">39&#176;0&#39;0&quot;N</text>
<line x1="18.3" y1="235.9" x2="13.8" y2="235.9" stroke="#000" stroke-width="1"/>
<line x1="404.4" y1="245.8" x2="408.9" y2="245.8" stroke="#000" stroke-width="1"/>
<text class="lab" text-anchor="middle" transform="translate(10.3,235.9) rotate(-90)">38&#176;0&#39;0&quot;N</text>
<text class="lab" text-anchor="middle" transform="translate(418,245.8) rotate(-90)">38&#176;0&#39;0&quot;N</text>
<line x1="18.3" y1="328.9" x2="13.8" y2="328.9" stroke="#000" stroke-width="1"/>
<line x1="404.4" y1="338.5" x2="408.9" y2="338.5" stroke="#000" stroke-width="1"/>
<text class="lab" text-anchor="middle" transform="translate(10.3,328.9) rotate(-90)">37&#176;0&#39;0&quot;N</text>
<text class="lab" text-anchor="middle" transform="translate(418,338.5) rotate(-90)">37&#176;0&#39;0&quot;N</text>
<rect x="18.3" y="17.1" width="386.1" height="372.9" fill="none" stroke="#111" stroke-width="1.6"/>
<g clip-path="url(#clipOut)"><g transform="rotate(22 220 190)" filter="url(#nzB)"><g transform="rotate(-22 220 190)">
<rect x="0" y="-40" width="440" height="460" fill="#4ce600"/>
<polygon points="80.0,30.0 215.0,60.0 250.0,100.0 205.0,92.0 160.0,80.0 110.0,74.0 80.0,74.0" fill="#47e600" filter="url(#bl2)"/>
<polygon points="88.0,34.0 104.0,36.0 108.0,50.0 98.0,54.0 90.0,48.0" fill="#3bcc00" filter="url(#bl2)"/>
<polygon points="122.0,57.0 140.0,61.0 150.0,66.0 149.0,73.0 144.0,77.0 134.0,78.0 126.0,75.0 121.0,66.0" fill="#2d3300" filter="url(#bl1)"/>
<polygon points="110.0,75.0 200.0,85.0 220.0,100.0 150.0,100.0 115.0,92.0" fill="#4fe600" filter="url(#bl3)"/>
<polygon points="106.0,90.0 140.0,94.0 146.0,130.0 142.0,165.0 128.0,178.0 100.0,172.0 96.0,120.0" fill="#699900" filter="url(#bl4)"/>
<polygon points="86.0,110.0 106.0,110.0 108.0,170.0 88.0,168.0" fill="#57ff00" filter="url(#bl3)"/>
<polygon points="55.0,168.0 130.0,180.0 140.0,225.0 125.0,240.0 80.0,238.0 55.0,230.0" fill="#62e600" filter="url(#bl4)"/>
<polygon points="147.0,95.0 205.0,95.0 232.0,115.0 206.0,135.0 205.0,200.0 152.0,185.0 150.0,120.0" fill="#4bb200" filter="url(#bl4)"/>
<polygon points="160.0,104.0 198.0,104.0 202.0,150.0 180.0,158.0 162.0,140.0" fill="#41cc00" filter="url(#bl5)"/>
<polygon points="150.0,200.0 205.0,205.0 206.0,268.0 170.0,262.0 140.0,250.0" fill="#42e600" filter="url(#bl4)"/>
<polygon points="206.0,120.0 240.0,118.0 285.0,135.0 285.0,160.0 245.0,210.0 240.0,240.0 204.0,262.0" fill="#3dff00" filter="url(#bl4)"/>
<polygon points="240.0,70.0 350.0,88.0 336.0,122.0 296.0,156.0 283.0,135.0 250.0,112.0" fill="#5cff00" filter="url(#bl4)"/>
<polygon points="298.0,150.0 318.0,135.0 335.0,128.0 343.0,150.0 336.0,190.0 318.0,190.0 305.0,178.0" fill="#39b200" filter="url(#bl5)"/>
<polygon points="348.0,122.0 362.0,140.0 390.0,170.0 385.0,205.0 355.0,215.0 342.0,195.0 338.0,160.0" fill="#73ff00" filter="url(#bl5)"/>
<polygon points="294.0,160.0 306.0,184.0 330.0,205.0 300.0,240.0 247.0,238.0 242.0,218.0 256.0,195.0" fill="#3cf200" filter="url(#bl4)"/>
<polygon points="320.0,200.0 346.0,212.0 322.0,222.0 320.0,256.0 300.0,240.0 310.0,215.0" fill="#5cff00" filter="url(#bl4)"/>
<polygon points="320.0,212.0 390.0,195.0 360.0,232.0 330.0,262.0 318.0,250.0" fill="#66ff00" filter="url(#bl4)"/>
<polygon points="247.0,240.0 300.0,238.0 322.0,258.0 270.0,305.0 250.0,300.0 245.0,255.0" fill="#59ff00" filter="url(#bl4)"/>
<polygon points="228.0,245.0 250.0,255.0 265.0,305.0 230.0,340.0 226.0,270.0" fill="#58ff00" filter="url(#bl4)"/>
<polygon points="118.0,262.0 150.0,256.0 196.0,275.0 205.0,330.0 115.0,345.0" fill="#55ff00" filter="url(#bl3)"/>
<polygon points="55.0,222.0 128.0,236.0 145.0,255.0 118.0,290.0 115.0,330.0 55.0,330.0" fill="#4abf00" filter="url(#bl3)"/>
</g></g><path d="M108,226 L104,245 L99.5,265" stroke="#3a10e8" stroke-width="1.6" fill="none" opacity="0.9"/><g fill="none" stroke="#ec10f0" opacity="1.00" filter="url(#bl0)"><path d="M131.9,204.0 Q176.3,238.0 264.6,248.0" stroke-width="1.52" opacity="0.66"/><path d="M129.1,208.0 Q176.3,241.7 255.9,251.4" stroke-width="1.74" opacity="0.75"/><path d="M130.0,212.0 Q176.3,245.4 264.2,254.8" stroke-width="1.24" opacity="0.77"/><path d="M131.1,216.0 Q176.3,249.1 261.5,258.2" stroke-width="1.62" opacity="0.93"/><path d="M134.7,220.0 Q176.3,252.8 258.1,261.6" stroke-width="1.83" opacity="0.98"/><path d="M137.2,224.0 Q176.3,256.5 260.2,265.0" stroke-width="2.18" opacity="0.62"/><path d="M134.7,228.0 Q176.3,260.2 249.7,268.4" stroke-width="1.34" opacity="0.65"/><path d="M137.4,232.0 Q176.3,263.9 258.6,271.8" stroke-width="1.38" opacity="0.83"/><path d="M134.8,236.0 Q176.3,267.6 261.9,275.2" stroke-width="1.75" opacity="0.63"/><path d="M137.1,240.0 Q176.3,271.3 254.3,278.6" stroke-width="1.88" opacity="0.77"/><path d="M140.8,244.0 Q176.3,275.0 252.0,282.0" stroke-width="1.65" opacity="0.72"/></g></g>
<polyline points="86.9,164.0 89.7,165.2 92.5,166.6 95.1,168.2 98.1,169.1 100.9,170.4 104.3,172.1 107.7,173.9 111.1,175.5 114.4,176.5 117.4,178.0 120.6,179.4 123.8,180.5 127.2,180.4 130.6,179.3 134.0,179.3 137.3,177.9 140.7,176.4 144.2,175.5 146.9,174.0 149.4,172.2 151.8,170.4 156.0,169.8 160.2,170.0 163.8,172.0 167.8,173.1 169.1,176.7 171.1,180.0 172.9,183.3 175.4,185.9 178.2,188.1 180.5,190.9 183.3,192.4 185.6,194.7 188.4,196.3 190.7,198.5 193.4,200.2 195.9,202.2 198.6,203.9 200.9,206.2 203.4,207.4" fill="none" stroke="#1c1030" stroke-width="1.1" stroke-linejoin="round"/>
<polyline points="238.2,114.7 236.4,117.6 234.5,120.5 232.2,123.4 230.2,126.4 227.2,127.3 224.4,128.5 221.3,130.0 218.0,131.0 215.2,132.9 212.0,134.0 210.4,137.5 210.3,140.9 210.2,144.2 209.8,147.6 207.8,153.0 207.7,156.1 208.0,159.3 208.2,162.4 208.5,165.5 209.1,169.3 209.8,173.1 208.8,176.5 208.4,180.0 207.3,183.3 206.7,186.5 206.3,189.7 205.0,192.8 204.7,196.0 204.7,199.8 203.5,203.6 203.4,207.4 203.4,210.5 202.4,213.4 202.2,216.4 202.7,219.7 203.1,223.1 203.4,226.5 202.7,229.9 203.0,233.4 202.2,236.7 199.9,239.1 196.8,240.7 194.5,243.1 193.7,246.1 193.2,249.1 192.0,252.0 192.4,255.5 193.3,258.9 194.5,262.2 197.6,263.8 200.3,265.9 203.3,267.6 206.0,269.8 211.1,272.3 214.3,273.0 217.3,274.2 220.5,275.0 225.9,273.2" fill="none" stroke="#1c1030" stroke-width="1.1" stroke-linejoin="round"/>
<polyline points="81.8,223.8 85.3,224.2 88.8,225.3 92.3,225.9 95.8,226.4 99.0,226.7 102.2,226.1 105.3,226.2 108.5,226.4 112.0,227.8 115.4,229.5 118.7,231.4 121.8,234.1 125.1,236.5 127.3,240.2 128.9,244.2 131.4,245.9 134.1,247.4 136.5,249.3 139.2,250.8 141.7,252.6 144.2,254.4 150.0,255.8 153.3,257.4 156.8,258.4 160.2,259.6 164.3,260.6 168.0,262.5 169.4,266.1 170.4,269.8 173.2,272.1 175.5,274.9 178.8,276.1 182.3,276.7 186.4,276.2 190.4,275.1 193.8,274.7 197.0,273.8 200.1,273.4 203.1,272.5 206.0,269.8" fill="none" stroke="#1c1030" stroke-width="1.1" stroke-linejoin="round"/>
<polyline points="144.2,254.4 141.5,256.8 138.3,258.4 135.5,260.5 132.7,262.7 129.3,264.9 126.4,267.8 124.6,270.5 122.5,272.9 121.5,276.2 120.0,279.3 118.9,282.2 118.1,285.2 117.4,288.2 116.7,291.6 115.6,295.0 114.9,298.4 115.3,301.6 115.3,304.8 116.2,307.9 116.2,311.1 116.1,314.3 115.2,317.4 115.4,320.6 114.9,323.8" fill="none" stroke="#1c1030" stroke-width="1.1" stroke-linejoin="round"/>
<polyline points="190.4,275.1 191.6,280.2 192.5,283.3 194.6,286.0 195.5,289.1 195.9,292.9 196.7,296.7 195.5,299.3" fill="none" stroke="#1c1030" stroke-width="1.1" stroke-linejoin="round"/>
<polyline points="238.2,114.7 243.3,115.5 246.9,115.4 250.5,115.5 254.9,117.6 257.8,122.7 260.7,117.6 265.1,116.2 268.0,118.4 269.5,121.6 270.9,124.9 272.4,128.5 278.2,129.3 282.5,132.2 284.0,136.5 283.7,140.2 283.3,143.8 282.6,148.2 281.8,152.5 285.5,156.2 291.3,156.9 294.6,158.0" fill="none" stroke="#1c1030" stroke-width="1.1" stroke-linejoin="round"/>
<polyline points="294.6,158.0 295.1,155.0 295.8,152.0 296.4,149.0 296.5,145.9 301.6,145.2 304.5,144.3 307.5,143.7 311.8,140.1 313.3,135.7 316.3,134.5 319.1,132.8 322.8,131.5 326.4,129.9 329.4,128.6 332.2,127.0 333.6,124.1 332.9,118.3 330.7,114.6 328.5,112.5 329.3,110.3 333.6,111.0 336.5,113.9 339.5,118.3 343.8,121.9 347.5,122.6" fill="none" stroke="#1c1030" stroke-width="1.1" stroke-linejoin="round"/>
<polyline points="294.6,158.0 298.7,161.9 301.1,163.9 303.1,166.3 304.5,170.6 305.3,175.0 304.1,178.4 303.1,181.8 306.6,186.5 310.2,187.2 313.8,187.8 317.3,188.9 320.4,190.5 323.6,192.0 326.7,193.6 329.1,196.0 331.5,198.4 334.6,199.1 337.8,199.7 340.9,200.7 343.4,204.1 345.6,207.8 347.5,211.8" fill="none" stroke="#1c1030" stroke-width="1.1" stroke-linejoin="round"/>
<polyline points="294.6,158.0 292.2,159.8 290.0,161.9 287.6,164.3 285.5,167.1 281.1,170.0 276.5,172.5 273.9,176.0 271.4,179.6 268.9,182.2 266.4,184.8 263.8,187.3 259.4,190.9 256.9,192.6 255.0,195.0 254.1,200.5 251.4,202.0 248.6,203.2 246.6,206.5 244.1,209.5 243.7,212.6 243.1,215.6 242.3,218.6 241.0,222.8 239.5,226.8 241.5,229.9 243.2,233.2 245.7,235.7 247.7,238.6" fill="none" stroke="#1c1030" stroke-width="1.1" stroke-linejoin="round"/>
<polyline points="247.7,238.6 253.2,239.5 256.3,239.6 259.3,239.1 262.3,238.6 265.3,238.8 268.4,239.0 271.4,238.6 271.8,235.2 272.7,232.0 273.2,228.6 276.9,228.1 280.5,226.8 283.9,228.9 287.7,230.5 290.2,228.1 292.4,225.4 295.0,223.2 297.7,225.0 298.1,228.0 297.9,231.1 298.6,234.1 300.2,237.0 301.2,240.1 302.3,243.2 305.2,245.8 308.6,247.7 311.8,249.1 315.0,250.5 318.5,253.9 320.8,257.4" fill="none" stroke="#1c1030" stroke-width="1.1" stroke-linejoin="round"/>
<polyline points="247.7,238.6 246.8,241.4 244.8,244.7 242.3,247.7 239.5,251.4" fill="none" stroke="#1c1030" stroke-width="1.1" stroke-linejoin="round"/>
<polyline points="239.5,251.4 235.0,247.7 231.4,243.2 228.6,242.3 227.7,245.8 227.7,249.5 228.0,252.5 228.1,255.6 227.7,258.6 227.0,261.6 227.4,264.7 226.8,267.7 225.9,273.2" fill="none" stroke="#1c1030" stroke-width="1.1" stroke-linejoin="round"/>
<polyline points="239.5,251.4 244.1,253.2 247.2,254.5 250.5,255.0 253.2,257.7 251.0,260.7 249.5,264.1 248.3,267.7 247.7,271.4 251.4,275.9 254.3,277.9 256.8,280.5 260.5,284.1 262.3,289.5 263.2,295.0 264.2,299.1 265.4,303.1" fill="none" stroke="#1c1030" stroke-width="1.1" stroke-linejoin="round"/>
<path d="M102.0,35.2 L104.4,38.5 L107.1,41.5 L109.0,44.3 L111.0,46.9 L113.4,49.2 L117.0,51.6 L121.1,53.0 L124.1,54.5 L127.4,55.5 L129.6,58.4 L132.5,60.6 L137.0,60.6 L141.4,61.9 L144.6,63.8 L147.8,65.7 L150.8,67.5 L154.2,68.3 L157.9,69.7 L161.8,70.8 L163.1,68.8 L165.6,72.1 L168.3,73.5 L171.5,73.5 L174.2,74.9 L177.1,75.9 L180.6,76.9 L183.9,78.5 L187.3,79.7 L189.8,81.5 L192.7,82.6 L194.9,84.8 L200.2,85.5 L203.8,86.8 L207.1,88.6 L210.4,90.5 L213.5,91.8 L216.7,92.4 L220.0,92.9 L223.1,94.0 L225.8,95.8 L227.7,98.9 L230.2,101.6 L232.8,105.0 L234.5,108.9 L236.2,111.9 L238.2,114.7 L242.5,114.0 L247.6,114.7 L249.1,111.8 L248.8,108.4 L248.9,105.0 L249.8,101.6 L250.5,98.0 L254.9,96.5 L260.7,96.5 L262.2,92.9 L262.9,90.0 L262.5,88.0 L266.4,85.5 L265.5,82.1 L263.8,79.1 L268.9,77.8 L271.4,82.9 L274.7,83.2 L277.8,84.2 L281.5,83.2 L285.4,82.9 L288.5,84.2 L291.8,84.2 L297.5,84.2 L300.5,86.3 L304.0,87.5 L307.0,88.3 L309.6,90.2 L312.7,90.7 L318.2,91.8 L321.5,88.5 L325.3,87.5 L329.1,86.4 L326.9,91.8 L327.8,95.0 L330.0,97.9 L335.1,97.9 L338.0,95.0 L340.9,97.9 L342.1,100.9 L343.8,103.7 L346.3,106.4 L348.2,109.5 L351.1,113.9 L354.7,117.5 L352.5,119.0 L349.6,119.7 L347.5,122.6 L348.2,127.0 L349.1,130.2 L351.1,132.8 L353.1,135.8 L355.5,138.6 L357.2,141.9 L359.8,144.5 L362.7,148.8 L363.7,151.9 L365.6,154.6 L368.5,159.0 L373.8,161.6 L375.7,164.8 L377.1,168.2 L378.9,171.4 L380.4,174.7 L381.1,177.1 L382.7,180.5 L383.4,184.2 L384.5,187.7 L384.6,191.3 L383.4,195.1 L381.1,198.4 L378.7,203.1 L375.2,205.5 L371.6,207.8 L369.5,210.9 L366.9,213.7 L362.2,217.3 L359.8,222.0 L357.5,225.5 L353.9,224.4 L351.5,219.6 L350.4,214.9 L346.8,211.4 L343.8,211.8 L340.9,212.5 L336.2,212.5 L331.5,213.7 L326.7,214.9 L323.2,217.3 L320.8,222.0 L320.8,227.9 L323.2,232.6 L325.0,235.3 L325.5,238.5 L326.7,242.1 L327.9,245.6 L324.4,246.8 L323.2,251.5 L324.1,254.5 L325.5,257.4 L327.9,261.0 L324.4,261.0 L320.8,258.6 L317.3,256.3 L315.0,256.8 L309.5,258.6 L307.9,261.5 L305.9,264.1 L300.5,265.0 L296.8,269.5 L295.0,273.2 L291.4,276.8 L289.5,280.5 L287.7,284.1 L284.1,287.7 L280.5,291.4 L276.8,295.0 L271.8,296.7 L269.4,299.4 L266.7,301.8 L261.6,304.4 L257.7,305.3 L254.0,306.9 L250.2,308.8 L246.4,310.7 L242.6,312.2 L238.7,313.3 L236.2,315.2 L233.6,317.1 L231.1,322.2 L229.0,325.2 L227.3,328.5 L227.9,331.7 L227.3,334.9 L223.4,338.7 L219.9,336.2 L215.8,334.9 L212.0,335.5 L208.2,334.9 L205.6,332.3 L207.2,328.6 L208.2,324.7 L205.6,319.6 L205.4,316.4 L204.4,313.3 L201.9,310.4 L200.5,306.9 L200.3,303.6 L199.3,300.5 L195.5,299.3 L190.4,301.8 L186.5,305.6 L189.1,310.7 L185.3,312.0 L183.5,314.7 L181.5,317.1 L178.1,318.9 L174.7,320.8 L171.2,323.5 L167.1,325.1 L162.0,326.4 L159.4,321.3 L157.6,317.6 L156.9,313.6 L151.8,313.6 L150.2,316.4 L148.0,318.7 L147.4,322.5 L148.0,326.4 L146.4,329.8 L144.2,332.7 L146.7,337.8 L146.4,342.2 L146.7,346.7 L143.3,348.1 L140.4,350.5 L137.3,349.3 L134.0,349.3 L131.3,347.5 L128.9,345.4 L125.0,343.7 L121.3,341.6 L118.1,341.0 L114.9,340.4 L115.3,337.2 L114.9,334.0 L114.0,330.7 L114.4,327.2 L113.6,323.8 L109.9,322.2 L106.0,321.3 L102.6,320.8 L99.2,321.9 L95.8,321.3 L92.0,320.7 L88.2,321.3 L84.2,320.5 L80.5,318.7 L75.5,320.0 L72.2,318.3 L69.1,316.2 L65.3,312.4 L67.8,307.3 L66.7,303.4 L65.3,299.6 L64.5,295.6 L62.7,292.0 L61.3,288.3 L60.2,284.4 L62.0,280.7 L62.7,276.7 L65.3,274.8 L67.8,272.9 L71.6,271.4 L75.5,270.4 L76.5,266.5 L78.0,262.7 L79.5,258.7 L81.8,255.1 L84.4,250.0 L83.1,246.7 L81.3,243.1 L80.5,239.1 L83.1,234.0 L84.4,228.9 L81.8,223.8 L79.0,222.5 L76.9,220.2 L74.2,218.7 L72.0,216.5 L68.8,215.7 L66.5,213.6 L63.6,211.5 L61.5,208.5 L62.7,204.7 L65.7,202.6 L67.9,199.7 L70.4,197.1 L72.2,194.5 L74.2,192.0 L75.1,188.1 L76.7,184.4 L76.8,179.9 L76.7,175.5 L78.9,173.2 L80.5,170.4 L82.6,168.2 L84.7,166.1 L86.9,164.0 L88.8,160.6 L91.6,158.0 L95.5,154.2 L97.8,152.0 L99.3,149.1 L98.7,145.9 L99.3,142.7 L95.5,138.9 L90.4,136.4 L90.4,131.3 L89.1,127.5 L87.8,123.6 L87.8,119.8 L89.1,117.3 L92.3,117.3 L95.5,117.3 L100.5,116.0 L104.4,112.2 L106.9,107.1 L109.5,102.0 L110.7,96.9 L109.5,91.8 L109.3,88.6 L108.2,85.5 L107.3,82.6 L107.6,79.5 L106.9,76.5 L106.8,73.2 L105.6,70.2 L103.1,67.6 L99.3,68.1 L95.5,68.9 L92.2,69.9 L89.1,71.5 L87.2,68.9 L85.3,63.8 L84.2,60.0 L86.7,55.5 L85.6,52.4 L85.5,49.2 L88.6,46.6 L91.8,44.1 L94.4,39.0 L98.0,36.7 Z" fill="none" stroke="#1c1224" stroke-width="1.2" stroke-linejoin="round"/>
<rect x="258.5" y="374" width="67.6" height="8.2" fill="#000"/>
<rect x="267.7" y="375.2" width="7.7" height="5.8" fill="#fff"/>
<rect x="284.4" y="375.2" width="7.7" height="5.8" fill="#fff"/>
<text x="254.6" y="370.8" class="sb">40</text>
<text x="272" y="370.8" class="sb">20</text>
<text x="290.9" y="370.8" class="sb">0</text>
<text x="322" y="370.8" class="sb">40 Kilometers</text>
<text x="365.4" y="48.4" class="pl">(b)</text>
</g>
<g transform="translate(0,0.0)">
<rect x="445.6" y="12.3" width="100.6" height="384.9" fill="#fff" stroke="#111" stroke-width="1.6"/>
<text x="455.2" y="27.9" class="lg">Legend</text>
<text x="454.4" y="43.2" class="cr">Coverage range</text>
<rect x="451.6" y="48.90" width="25" height="12" fill="#ffffff" stroke="#7a7a7a" stroke-width="1"/>
<text x="481.3" y="58.50" class="lt">0</text>
<rect x="504.4" y="54.10" width="10.6" height="1.1" fill="#333"/>
<text x="521.4" y="58.50" class="lt">0. 05</text>
<rect x="451.6" y="66.15" width="25" height="12" fill="#ffb2fc" stroke="#7a7a7a" stroke-width="1"/>
<text x="481.3" y="75.75" class="lt">0. 05</text>
<rect x="504.4" y="71.35" width="10.6" height="1.1" fill="#333"/>
<text x="521.4" y="75.75" class="lt">0. 1</text>
<rect x="451.6" y="83.40" width="25" height="12" fill="#ff55f2" stroke="#7a7a7a" stroke-width="1"/>
<text x="481.3" y="93.00" class="lt">0. 10</text>
<rect x="504.4" y="88.60" width="10.6" height="1.1" fill="#333"/>
<text x="521.4" y="93.00" class="lt">0. 15</text>
<rect x="451.6" y="100.65" width="25" height="12" fill="#f004f0" stroke="#7a7a7a" stroke-width="1"/>
<text x="481.3" y="110.25" class="lt">0. 15</text>
<rect x="504.4" y="105.85" width="10.6" height="1.1" fill="#333"/>
<text x="521.4" y="110.25" class="lt">0. 2</text>
<rect x="451.6" y="117.90" width="25" height="12" fill="#9204f0" stroke="#7a7a7a" stroke-width="1"/>
<text x="481.3" y="127.50" class="lt">0. 2</text>
<rect x="504.4" y="123.10" width="10.6" height="1.1" fill="#333"/>
<text x="521.4" y="127.50" class="lt">0. 25</text>
<rect x="451.6" y="135.15" width="25" height="12" fill="#3c06f2" stroke="#7a7a7a" stroke-width="1"/>
<text x="481.3" y="144.75" class="lt">0. 25</text>
<rect x="504.4" y="140.35" width="10.6" height="1.1" fill="#333"/>
<text x="521.4" y="144.75" class="lt">0. 3</text>
<rect x="451.6" y="152.40" width="25" height="12" fill="#2c42f0" stroke="#7a7a7a" stroke-width="1"/>
<text x="481.3" y="162.00" class="lt">0. 3</text>
<rect x="504.4" y="157.60" width="10.6" height="1.1" fill="#333"/>
<text x="521.4" y="162.00" class="lt">0. 35</text>
<rect x="451.6" y="169.65" width="25" height="12" fill="#3c8cf2" stroke="#7a7a7a" stroke-width="1"/>
<text x="481.3" y="179.25" class="lt">0. 35</text>
<rect x="504.4" y="174.85" width="10.6" height="1.1" fill="#333"/>
<text x="521.4" y="179.25" class="lt">0. 4</text>
<rect x="451.6" y="186.90" width="25" height="12" fill="#14e6f6" stroke="#7a7a7a" stroke-width="1"/>
<text x="481.3" y="196.50" class="lt">0. 4</text>
<rect x="504.4" y="192.10" width="10.6" height="1.1" fill="#333"/>
<text x="521.4" y="196.50" class="lt">0. 45</text>
<rect x="451.6" y="204.15" width="25" height="12" fill="#30f0b8" stroke="#7a7a7a" stroke-width="1"/>
<text x="481.3" y="213.75" class="lt">0. 45</text>
<rect x="504.4" y="209.35" width="10.6" height="1.1" fill="#333"/>
<text x="521.4" y="213.75" class="lt">0. 5</text>
<rect x="451.6" y="221.40" width="25" height="12" fill="#30f07a" stroke="#7a7a7a" stroke-width="1"/>
<text x="481.3" y="231.00" class="lt">0. 5</text>
<rect x="504.4" y="226.60" width="10.6" height="1.1" fill="#333"/>
<text x="521.4" y="231.00" class="lt">0. 55</text>
<rect x="451.6" y="238.65" width="25" height="12" fill="#22ee22" stroke="#7a7a7a" stroke-width="1"/>
<text x="481.3" y="248.25" class="lt">0. 55</text>
<rect x="504.4" y="243.85" width="10.6" height="1.1" fill="#333"/>
<text x="521.4" y="248.25" class="lt">0. 6</text>
<rect x="451.6" y="255.90" width="25" height="12" fill="#84f012" stroke="#7a7a7a" stroke-width="1"/>
<text x="481.3" y="265.50" class="lt">0. 6</text>
<rect x="504.4" y="261.10" width="10.6" height="1.1" fill="#333"/>
<text x="521.4" y="265.50" class="lt">0. 65</text>
<rect x="451.6" y="273.15" width="25" height="12" fill="#d2f014" stroke="#7a7a7a" stroke-width="1"/>
<text x="481.3" y="282.75" class="lt">0. 65</text>
<rect x="504.4" y="278.35" width="10.6" height="1.1" fill="#333"/>
<text x="521.4" y="282.75" class="lt">0. 7</text>
<rect x="451.6" y="290.40" width="25" height="12" fill="#ffe600" stroke="#7a7a7a" stroke-width="1"/>
<text x="481.3" y="300.00" class="lt">0. 7</text>
<rect x="504.4" y="295.60" width="10.6" height="1.1" fill="#333"/>
<text x="521.4" y="300.00" class="lt">0. 75</text>
<rect x="451.6" y="307.65" width="25" height="12" fill="#ffb400" stroke="#7a7a7a" stroke-width="1"/>
<text x="481.3" y="317.25" class="lt">0. 75</text>
<rect x="504.4" y="312.85" width="10.6" height="1.1" fill="#333"/>
<text x="521.4" y="317.25" class="lt">0. 8</text>
<rect x="451.6" y="324.90" width="25" height="12" fill="#ff8a00" stroke="#7a7a7a" stroke-width="1"/>
<text x="481.3" y="334.50" class="lt">0. 8</text>
<rect x="504.4" y="330.10" width="10.6" height="1.1" fill="#333"/>
<text x="521.4" y="334.50" class="lt">0. 85</text>
<rect x="451.6" y="342.15" width="25" height="12" fill="#e26000" stroke="#7a7a7a" stroke-width="1"/>
<text x="481.3" y="351.75" class="lt">0. 85</text>
<rect x="504.4" y="347.35" width="10.6" height="1.1" fill="#333"/>
<text x="521.4" y="351.75" class="lt">0. 9</text>
<rect x="451.6" y="359.40" width="25" height="12" fill="#b03406" stroke="#7a7a7a" stroke-width="1"/>
<text x="481.3" y="369.00" class="lt">0. 9</text>
<rect x="504.4" y="364.60" width="10.6" height="1.1" fill="#333"/>
<text x="521.4" y="369.00" class="lt">0. 95</text>
<rect x="451.6" y="376.65" width="25" height="12" fill="#7c0006" stroke="#7a7a7a" stroke-width="1"/>
<text x="481.3" y="386.25" class="lt">0. 95</text>
<rect x="504.4" y="381.85" width="10.6" height="1.1" fill="#333"/>
<text x="521.4" y="386.25" class="lt">1</text>
</g>
<g transform="translate(0,428.3)">
<rect x="445.6" y="12.3" width="100.6" height="384.9" fill="#fff" stroke="#111" stroke-width="1.6"/>
<text x="455.2" y="27.9" class="lg">Legend</text>
<text x="454.4" y="43.2" class="cr">Coverage range</text>
<rect x="451.6" y="48.90" width="25" height="12" fill="#ffffff" stroke="#7a7a7a" stroke-width="1"/>
<text x="481.3" y="58.50" class="lt">0</text>
<rect x="504.4" y="54.10" width="10.6" height="1.1" fill="#333"/>
<text x="521.4" y="58.50" class="lt">0. 05</text>
<rect x="451.6" y="66.15" width="25" height="12" fill="#ffb2fc" stroke="#7a7a7a" stroke-width="1"/>
<text x="481.3" y="75.75" class="lt">0. 05</text>
<rect x="504.4" y="71.35" width="10.6" height="1.1" fill="#333"/>
<text x="521.4" y="75.75" class="lt">0. 1</text>
<rect x="451.6" y="83.40" width="25" height="12" fill="#ff55f2" stroke="#7a7a7a" stroke-width="1"/>
<text x="481.3" y="93.00" class="lt">0. 10</text>
<rect x="504.4" y="88.60" width="10.6" height="1.1" fill="#333"/>
<text x="521.4" y="93.00" class="lt">0. 15</text>
<rect x="451.6" y="100.65" width="25" height="12" fill="#f004f0" stroke="#7a7a7a" stroke-width="1"/>
<text x="481.3" y="110.25" class="lt">0. 15</text>
<rect x="504.4" y="105.85" width="10.6" height="1.1" fill="#333"/>
<text x="521.4" y="110.25" class="lt">0. 2</text>
<rect x="451.6" y="117.90" width="25" height="12" fill="#9204f0" stroke="#7a7a7a" stroke-width="1"/>
<text x="481.3" y="127.50" class="lt">0. 2</text>
<rect x="504.4" y="123.10" width="10.6" height="1.1" fill="#333"/>
<text x="521.4" y="127.50" class="lt">0. 25</text>
<rect x="451.6" y="135.15" width="25" height="12" fill="#3c06f2" stroke="#7a7a7a" stroke-width="1"/>
<text x="481.3" y="144.75" class="lt">0. 25</text>
<rect x="504.4" y="140.35" width="10.6" height="1.1" fill="#333"/>
<text x="521.4" y="144.75" class="lt">0. 3</text>
<rect x="451.6" y="152.40" width="25" height="12" fill="#2c42f0" stroke="#7a7a7a" stroke-width="1"/>
<text x="481.3" y="162.00" class="lt">0. 3</text>
<rect x="504.4" y="157.60" width="10.6" height="1.1" fill="#333"/>
<text x="521.4" y="162.00" class="lt">0. 35</text>
<rect x="451.6" y="169.65" width="25" height="12" fill="#3c8cf2" stroke="#7a7a7a" stroke-width="1"/>
<text x="481.3" y="179.25" class="lt">0. 35</text>
<rect x="504.4" y="174.85" width="10.6" height="1.1" fill="#333"/>
<text x="521.4" y="179.25" class="lt">0. 4</text>
<rect x="451.6" y="186.90" width="25" height="12" fill="#14e6f6" stroke="#7a7a7a" stroke-width="1"/>
<text x="481.3" y="196.50" class="lt">0. 4</text>
<rect x="504.4" y="192.10" width="10.6" height="1.1" fill="#333"/>
<text x="521.4" y="196.50" class="lt">0. 45</text>
<rect x="451.6" y="204.15" width="25" height="12" fill="#30f0b8" stroke="#7a7a7a" stroke-width="1"/>
<text x="481.3" y="213.75" class="lt">0. 45</text>
<rect x="504.4" y="209.35" width="10.6" height="1.1" fill="#333"/>
<text x="521.4" y="213.75" class="lt">0. 5</text>
<rect x="451.6" y="221.40" width="25" height="12" fill="#30f07a" stroke="#7a7a7a" stroke-width="1"/>
<text x="481.3" y="231.00" class="lt">0. 5</text>
<rect x="504.4" y="226.60" width="10.6" height="1.1" fill="#333"/>
<text x="521.4" y="231.00" class="lt">0. 55</text>
<rect x="451.6" y="238.65" width="25" height="12" fill="#22ee22" stroke="#7a7a7a" stroke-width="1"/>
<text x="481.3" y="248.25" class="lt">0. 55</text>
<rect x="504.4" y="243.85" width="10.6" height="1.1" fill="#333"/>
<text x="521.4" y="248.25" class="lt">0. 6</text>
<rect x="451.6" y="255.90" width="25" height="12" fill="#84f012" stroke="#7a7a7a" stroke-width="1"/>
<text x="481.3" y="265.50" class="lt">0. 6</text>
<rect x="504.4" y="261.10" width="10.6" height="1.1" fill="#333"/>
<text x="521.4" y="265.50" class="lt">0. 65</text>
<rect x="451.6" y="273.15" width="25" height="12" fill="#d2f014" stroke="#7a7a7a" stroke-width="1"/>
<text x="481.3" y="282.75" class="lt">0. 65</text>
<rect x="504.4" y="278.35" width="10.6" height="1.1" fill="#333"/>
<text x="521.4" y="282.75" class="lt">0. 7</text>
<rect x="451.6" y="290.40" width="25" height="12" fill="#ffe600" stroke="#7a7a7a" stroke-width="1"/>
<text x="481.3" y="300.00" class="lt">0. 7</text>
<rect x="504.4" y="295.60" width="10.6" height="1.1" fill="#333"/>
<text x="521.4" y="300.00" class="lt">0. 75</text>
<rect x="451.6" y="307.65" width="25" height="12" fill="#ffb400" stroke="#7a7a7a" stroke-width="1"/>
<text x="481.3" y="317.25" class="lt">0. 75</text>
<rect x="504.4" y="312.85" width="10.6" height="1.1" fill="#333"/>
<text x="521.4" y="317.25" class="lt">0. 8</text>
<rect x="451.6" y="324.90" width="25" height="12" fill="#ff8a00" stroke="#7a7a7a" stroke-width="1"/>
<text x="481.3" y="334.50" class="lt">0. 8</text>
<rect x="504.4" y="330.10" width="10.6" height="1.1" fill="#333"/>
<text x="521.4" y="334.50" class="lt">0. 85</text>
<rect x="451.6" y="342.15" width="25" height="12" fill="#e26000" stroke="#7a7a7a" stroke-width="1"/>
<text x="481.3" y="351.75" class="lt">0. 85</text>
<rect x="504.4" y="347.35" width="10.6" height="1.1" fill="#333"/>
<text x="521.4" y="351.75" class="lt">0. 9</text>
<rect x="451.6" y="359.40" width="25" height="12" fill="#b03406" stroke="#7a7a7a" stroke-width="1"/>
<text x="481.3" y="369.00" class="lt">0. 9</text>
<rect x="504.4" y="364.60" width="10.6" height="1.1" fill="#333"/>
<text x="521.4" y="369.00" class="lt">0. 95</text>
<rect x="451.6" y="376.65" width="25" height="12" fill="#7c0006" stroke="#7a7a7a" stroke-width="1"/>
<text x="481.3" y="386.25" class="lt">0. 95</text>
<rect x="504.4" y="381.85" width="10.6" height="1.1" fill="#333"/>
<text x="521.4" y="386.25" class="lt">1</text>
</g>
</svg>
</body></html>
